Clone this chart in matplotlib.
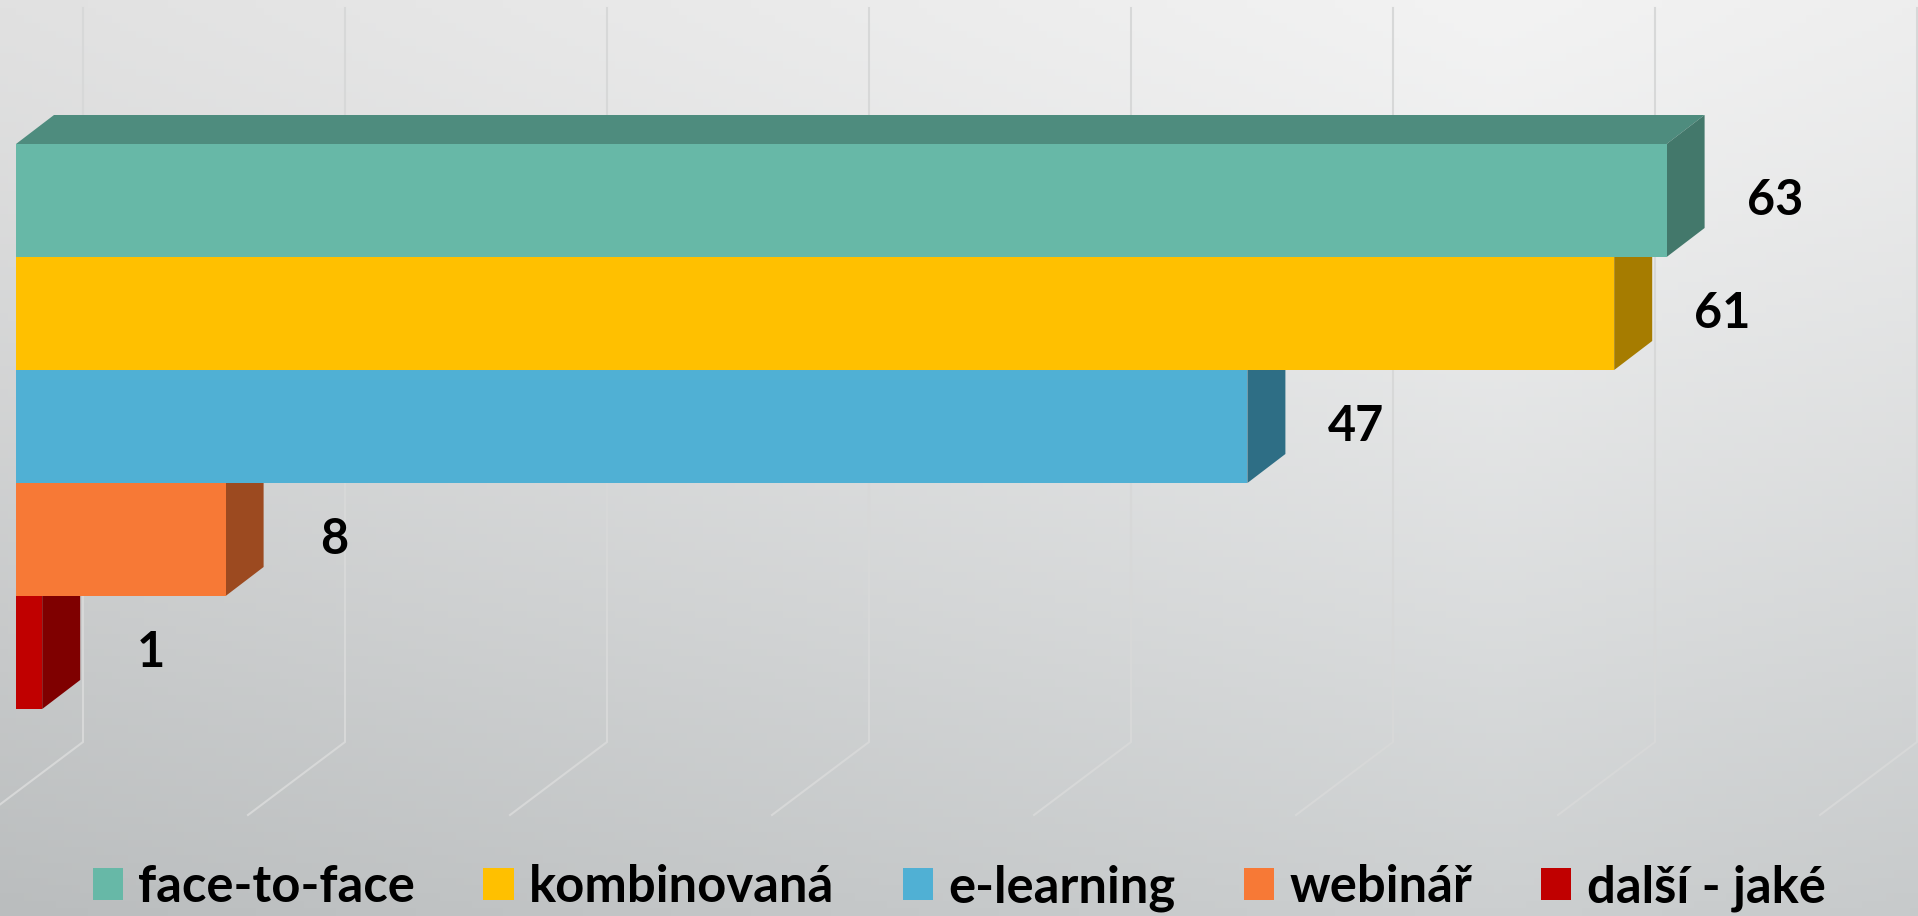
import numpy as np
import matplotlib.pyplot as plt
from matplotlib.patches import Polygon, Patch

plt.rcParams['font.family'] = ['Lato', 'DejaVu Sans']

# data
categories = ['face-to-face', 'kombinovaná', 'e-learning', 'webinář', 'další - jaké']
values = [63, 61, 47, 8, 1]
front_colors = ['#67B8A7', '#FFC000', '#50B0D4', '#F77936', '#C00000']
side_colors = ['#43786B', '#A67C00', '#2E6E85', '#9C4A20', '#7F0000']
top_colors = ['#4E8C7E', '#BF9000', '#3C849F', '#B95A28', '#900000']
grid_values = np.arange(0, 71, 10)

W, H = 1918, 916
fig = plt.figure(figsize=(W / 100, H / 100), dpi=100)
ax = fig.add_axes([0, 0, 1, 1])

# pixel scale of the "3D" view
px_x = 26.2    # px per value unit
px_y = 113     # px per category band
x0 = 16        # zero line of the bar fronts (px)
y0 = 200.5     # centre of the first band (px)
ax.set_xlim(-x0 / px_x, (W - x0) / px_x)
ax.set_ylim((H - y0) / px_y, -y0 / px_y)
ax.axis('off')

def py(p):
    # pixel row -> data y
    return (p - y0) / px_y

# background gradient
xx, yy = np.meshgrid(np.linspace(0, W, 240), np.linspace(0, H, 120))
c = 243 - 18 * np.abs(xx - 1500) / 1500 - 36 * (yy / H) ** 1.2
t = yy / H
img = np.dstack([c - 3 * t, c, c + 1 * t]) / 255
ax.imshow(np.clip(img, 0, 1), extent=[*ax.get_xlim(), *ax.get_ylim()], aspect='auto', zorder=0)

# back wall gridlines + floor lines
wall_dx = 67 / px_x
floor_dx = 97 / px_x
for v in grid_values:
    xb = v + wall_dx
    ax.plot([xb, xb, xb - floor_dx], [py(8), py(742), py(815)],
            color='#D7D8D8', lw=1.5, zorder=1, solid_joinstyle='miter')

# bars, drawn bottom to top so upper fronts hide lower tops
dx = 38 / px_x
dy = 29 / px_y
for i in range(len(values) - 1, -1, -1):
    v = values[i]
    top, bot = i - 0.5, i + 0.5
    z = 10 + (len(values) - i) * 3
    ax.add_patch(Polygon([(0, top), (dx, top - dy), (v + dx, top - dy), (v, top)],
                         closed=True, fc=top_colors[i], ec='none', zorder=z))
    ax.add_patch(Polygon([(v, top), (v + dx, top - dy), (v + dx, bot - dy), (v, bot)],
                         closed=True, fc=side_colors[i], ec='none', zorder=z))
    ax.add_patch(Polygon([(0, top), (v, top), (v, bot), (0, bot)],
                         closed=True, fc=front_colors[i], ec='none', zorder=z + 1))
    ax.annotate(str(v), xy=(v, i), xytext=(78, 0), textcoords='offset points',
                ha='center', va='center', fontsize=35, fontweight='bold',
                color='black', zorder=40)

handles = [Patch(facecolor=col, edgecolor='none') for col in front_colors]
fig.legend(handles, categories, loc='center', bbox_to_anchor=(0.5, 1 - 888 / H),
           ncol=5, frameon=False, prop=dict(weight='bold', size=36.5),
           handlelength=0.6, handleheight=0.6, handletextpad=0.3,
           columnspacing=1.35)

fig.savefig('out.png', dpi=100)
